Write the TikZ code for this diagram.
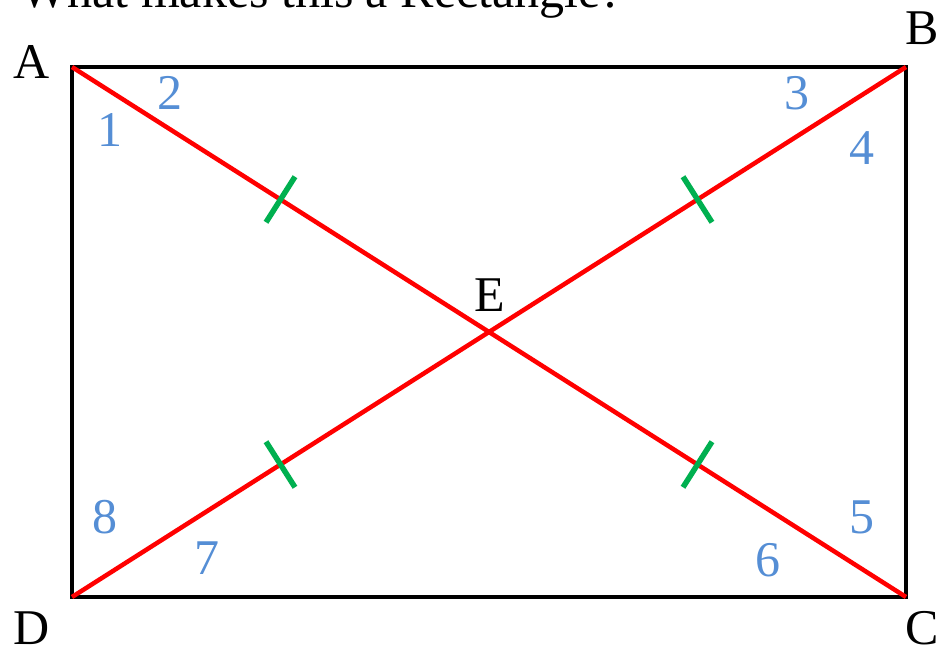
\documentclass[tikz,border=0pt]{standalone}
\usepackage{fontspec}
\setmainfont{Liberation Serif}
\usetikzlibrary{calc}
\definecolor{cInk}{HTML}{000000}
\definecolor{cDiag}{HTML}{FF0000}
\definecolor{cTick}{HTML}{00B050}
\definecolor{cNum}{HTML}{558ED5}
\tikzset{
  big/.style   ={font=\fontsize{50}{60}\selectfont,inner sep=0pt},
  vtx/.style   ={big,text=cInk},
  num/.style   ={big,text=cNum},
  rect/.style  ={line width=4.5pt,cInk},
  diag/.style  ={line width=4.5pt,cDiag},
  tick/.style  ={line width=5.5pt,cTick},
}
\begin{document}
\begin{tikzpicture}[x=1pt,y=-1pt]
\useasboundingbox (0,0) rectangle (940,650);
% corners and centre
\coordinate (A) at (72,67);
\coordinate (B) at (906,67);
\coordinate (C) at (906,597);
\coordinate (D) at (72,597);
\coordinate (E) at ($(A)!0.5!(C)$);
\node[big,anchor=base west] (title) at (20,8) {What makes this a Rectangle?};
\draw[rect] (A) -- (B) -- (C) -- (D) -- cycle;
\draw[diag] (A) -- (C);
\draw[diag] (B) -- (D);
% equal halves
\foreach \p in {A,B,C,D}
  \draw[tick] ($(\p)!0.5!(E)!27pt!90:(E)$) -- ($(\p)!0.5!(E)!27pt!-90:(E)$);
% vertex labels
\node[vtx] (lA) at (32,62) {A};
\node[vtx] (lB) at (922,28) {B};
\node[vtx] (lC) at (922,628) {C};
\node[vtx] (lD) at (32,628) {D};
\node[vtx] (lE) at (490,295) {E};
% angle numbers
\node[num] (n1) at (110,130) {1};
\node[num] (n2) at (170,93) {2};
\node[num] (n3) at (797,93) {3};
\node[num] (n4) at (862,148) {4};
\node[num] (n5) at (862,517) {5};
\node[num] (n6) at (768,560) {6};
\node[num] (n7) at (207,558) {7};
\node[num] (n8) at (105,517) {8};
\end{tikzpicture}
\end{document}
